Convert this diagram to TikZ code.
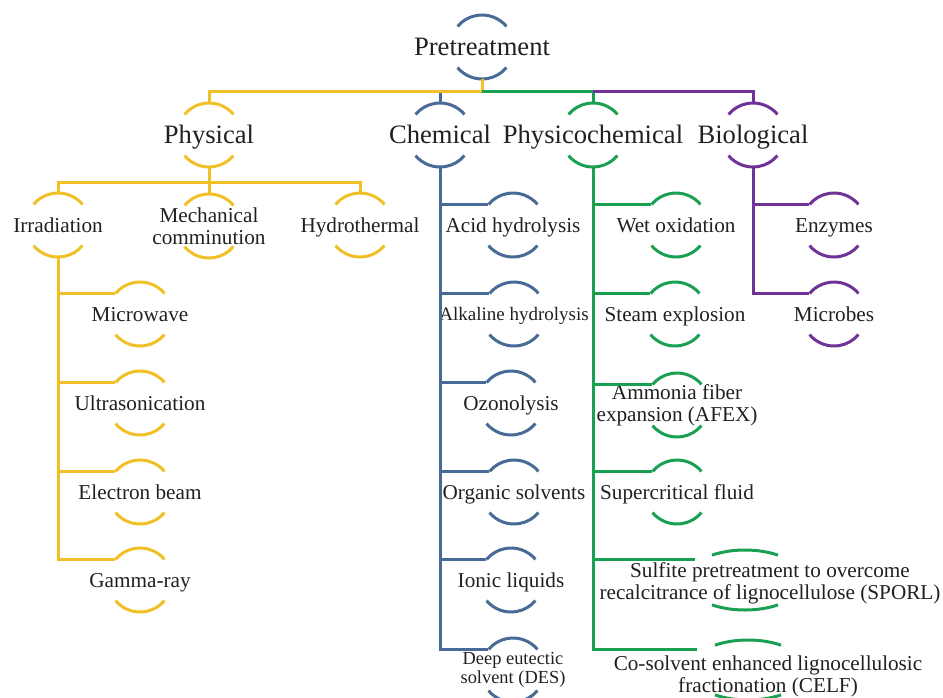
\documentclass[tikz,border=0pt]{standalone}
\usepackage{fontspec}
\setmainfont{Liberation Serif}
\definecolor{ylw}{RGB}{241,192,38}
\definecolor{blu}{RGB}{72,106,150}
\definecolor{grn}{RGB}{26,160,82}
\definecolor{prp}{RGB}{112,50,150}
\definecolor{ink}{RGB}{35,31,32}
\tikzset{
  base/.style={inner sep=0pt, text=ink},
  big/.style={base, font=\fontsize{13.3}{14}\selectfont, text height=8.8pt, text depth=0pt},
  leaf/.style={base, font=\fontsize{10.6}{11}\selectfont, text height=7pt, text depth=0pt},
  twoline/.style={base, align=center, font=\fontsize{10.6}{11}\selectfont},
  link/.style={line width=1.5pt},
}
\newcommand{\ring}[2]{%
  \draw[link,#2] (#1.center) ++(40:16pt) arc[start angle=40,end angle=140,radius=16pt] coordinate (#1-l);
  \draw[link,#2] (#1.center) ++(220:16pt) arc[start angle=220,end angle=320,radius=16pt];
  \coordinate (#1-t) at ([yshift=16pt]#1.center);
  \coordinate (#1-b) at ([yshift=-16pt]#1.center);
}
\newcommand{\flatring}[2]{%
  \draw[link,#2] (#1) ++(56:29.5pt and 15pt) arc[start angle=56,end angle=124,x radius=29.5pt,y radius=15pt];
  \draw[link,#2] (#1) ++(236:29.5pt and 15pt) arc[start angle=236,end angle=304,x radius=29.5pt,y radius=15pt];
}
\begin{document}
\begin{tikzpicture}[x=0.5pt,y=-0.5pt]
    \useasboundingbox (0,0) rectangle (943,697);
    \node[big] (root) at (482,47) {Pretreatment}; \ring{root}{blu}
    \node[big] (phys) at (209,135) {Physical}; \ring{phys}{ylw}
    \node[big] (chem) at (440,135) {Chemical}; \ring{chem}{blu}
    \node[big] (pchem) at (593,135) {Physicochemical}; \ring{pchem}{grn}
    \node[big] (bio) at (753,135) {Biological}; \ring{bio}{prp}

    \node[leaf] (irr) at (58,225) {Irradiation}; \ring{irr}{ylw}
    \node[twoline] (mech) at (209,226) {Mechanical\\comminution}; \ring{mech}{ylw}
    \node[leaf] (hyd) at (360,225) {Hydrothermal}; \ring{hyd}{ylw}
    \node[leaf] (mw) at (140,314) {Microwave}; \ring{mw}{ylw}
    \node[leaf] (us) at (140,403) {Ultrasonication}; \ring{us}{ylw}
    \node[leaf] (eb) at (140,492) {Electron beam}; \ring{eb}{ylw}
    \node[leaf] (gr) at (140,580) {Gamma-ray}; \ring{gr}{ylw}

    \node[leaf] (acid) at (513,225) {Acid hydrolysis}; \ring{acid}{blu}
    \node[leaf, font=\fontsize{9.5}{10}\selectfont, text height=6.3pt] (alk) at (514,314) {Alkaline hydrolysis}; \ring{alk}{blu}
    \node[leaf] (ozo) at (511,403) {Ozonolysis}; \ring{ozo}{blu}
    \node[leaf] (org) at (514,492) {Organic solvents}; \ring{org}{blu}
    \node[leaf] (ion) at (511,580) {Ionic liquids}; \ring{ion}{blu}
    \node[twoline, font=\fontsize{9.2}{9.5}\selectfont] (des) at (513,670) {Deep eutectic\\solvent (DES)}; \ring{des}{blu}

    \node[leaf] (wet) at (676,225) {Wet oxidation}; \ring{wet}{grn}
    \node[leaf] (steam) at (675,314) {Steam explosion}; \ring{steam}{grn}
    \node[twoline] (afex) at (677,405) {Ammonia fiber\\expansion (AFEX)}; \ring{afex}{grn}
    \node[leaf] (scf) at (677,492) {Supercritical fluid}; \ring{scf}{grn}
    \node[twoline] (sporl) at (770,583) {Sulfite pretreatment to overcome\\recalcitrance of lignocellulose (SPORL)};
    \coordinate (sporl-o) at (745,580); \flatring{sporl-o}{grn}
    \coordinate (sporl-l) at (695,559);
    \node[twoline] (celf) at (768,676) {Co-solvent enhanced lignocellulosic\\fractionation (CELF)};
    \coordinate (celf-o) at (748,670); \flatring{celf-o}{grn}
    \coordinate (celf-l) at (697,649);

    \node[leaf] (enz) at (834,225) {Enzymes}; \ring{enz}{prp}
    \node[leaf] (mic) at (834,314) {Microbes}; \ring{mic}{prp}

    \draw[link,blu] (chem-t) -- ++(0,-12);
    \draw[link,ylw] (root-b) -- ++(0,12) coordinate (hub) -| (phys-t);
    \draw[link,grn] (hub) -| (pchem-t);
    \draw[link,prp] (pchem-t |- hub) -| (bio-t);

    \draw[link,ylw] (phys-b) -- ++(0,15) coordinate (phub) -| (irr-t);
    \draw[link,ylw] (phub) -| (hyd-t);
    \draw[link,ylw] (phub) -- (mech-t);
    \draw[link,ylw] (irr-b) |- (mw-l) (irr-b) |- (us-l) (irr-b) |- (eb-l) (irr-b) |- (gr-l);

    \draw[link,blu] (chem-b) |- (acid-l) (chem-b) |- (alk-l) (chem-b) |- (ozo-l) (chem-b) |- (org-l) (chem-b) |- (ion-l) (chem-b) |- (des-l);
    \draw[link,grn] (pchem-b) |- (wet-l) (pchem-b) |- (steam-l) (pchem-b) |- (afex-l) (pchem-b) |- (scf-l) (pchem-b) |- (sporl-l) (pchem-b) |- (celf-l);
    \draw[link,prp] (bio-b) |- (enz-l) (bio-b) |- (mic-l);
\end{tikzpicture}
\end{document}
